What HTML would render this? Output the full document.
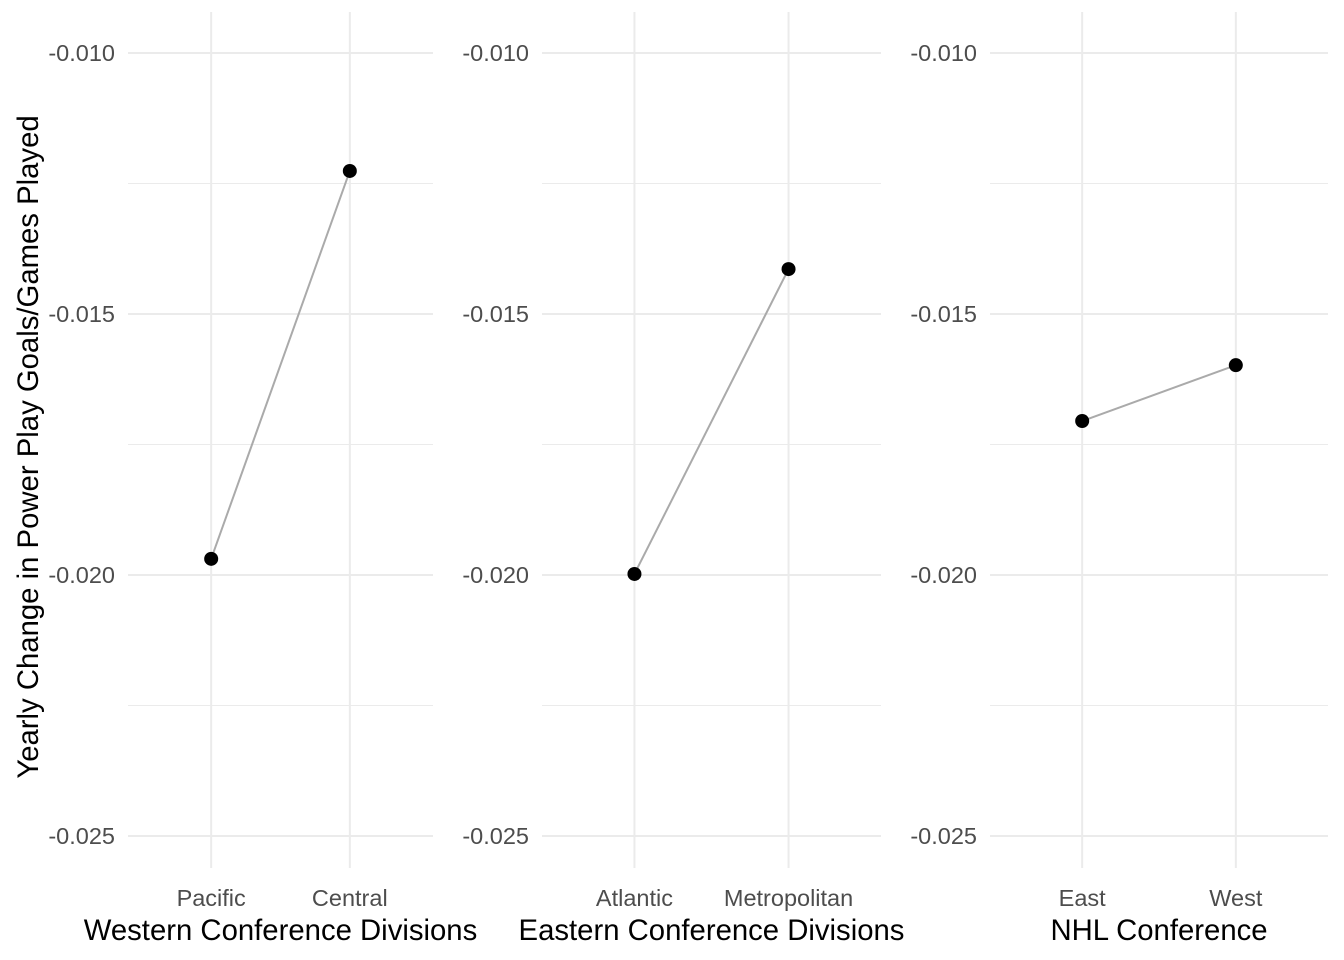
<!DOCTYPE html>
<html><head><meta charset="utf-8"><style>
body{margin:0;background:#fff;}
svg{display:block;font-family:"Liberation Sans",Arial,sans-serif;}
</style></head><body>
<svg id="chart" width="1344" height="960"></svg>
<script>
const panelTitles = ["Western Conference Divisions","Eastern Conference Divisions","NHL Conference"];
const panelCats = [["Pacific","Central"],["Atlantic","Metropolitan"],["East","West"]];
const panelVals = [[-0.01969,-0.01226],[-0.01998,-0.01414],[-0.01705,-0.01598]];
const yTicks = [-0.010,-0.015,-0.020,-0.025];
const yTickLabels = ["-0.010","-0.015","-0.020","-0.025"];
const yMinor = [-0.0125,-0.0175,-0.0225];

(function(){
const NS="http://www.w3.org/2000/svg";
const svg=document.getElementById('chart');
function mk(t,a,p){const e=document.createElementNS(NS,t);for(const k in a)e.setAttribute(k,a[k]);(p||svg).appendChild(e);return e;}
const panels=[{l:128,r:433},{l:542,r:881},{l:990,r:1328}];
const plotTop=12,plotBot=868;
function y(v){return 53+(-0.010-v)/0.005*261;}
panels.forEach((p,i)=>{
  const g=mk('g',{});
  
  
  const unit=(p.r-p.l)/2.2;
  const x=k=>p.l+unit*(0.6+k);
  yMinor.forEach(v=>mk('line',{x1:p.l,x2:p.r,y1:y(v),y2:y(v),stroke:'#ebebeb','stroke-width':1},g));
  yTicks.forEach((v,j)=>{
    const ln=mk('line',{x1:p.l,x2:p.r,y1:y(v),y2:y(v),stroke:'#ebebeb','stroke-width':2},g);
    
    
    const t=mk('text',{x:p.l-13,y:y(v)+8,'text-anchor':'end','font-size':23.5,fill:'#4d4d4d'},g);
    t.textContent=yTickLabels[j];
    
    
  });
  panelCats[i].forEach((c,k)=>{
    mk('line',{x1:x(k),x2:x(k),y1:plotTop,y2:plotBot,stroke:'#ebebeb','stroke-width':2},g);
    const t=mk('text',{x:x(k),y:906,'text-anchor':'middle','font-size':23.5,fill:'#4d4d4d'},g);
    t.textContent=c;
    
    
  });
  const v=panelVals[i];
  const ln=mk('line',{x1:x(0),y1:y(v[0]),x2:x(1),y2:y(v[1]),stroke:'#aaaaaa','stroke-width':2},g);
  
  
  v.forEach((val,k)=>{
    const c=mk('circle',{cx:x(k),cy:y(val),r:7,fill:'#000'},g);
    
    
  });
  const tt=mk('text',{x:(p.l+p.r)/2,y:940,'text-anchor':'middle','font-size':29.3,fill:'#000'},g);
  tt.textContent=panelTitles[i];
  
  
});
const yt=mk('text',{x:0,y:0,'text-anchor':'middle','font-size':29.3,fill:'#000',transform:'translate(38,447) rotate(-90)'});
yt.textContent='Yearly Change in Power Play Goals/Games Played';


})();
</script>
</body></html>
